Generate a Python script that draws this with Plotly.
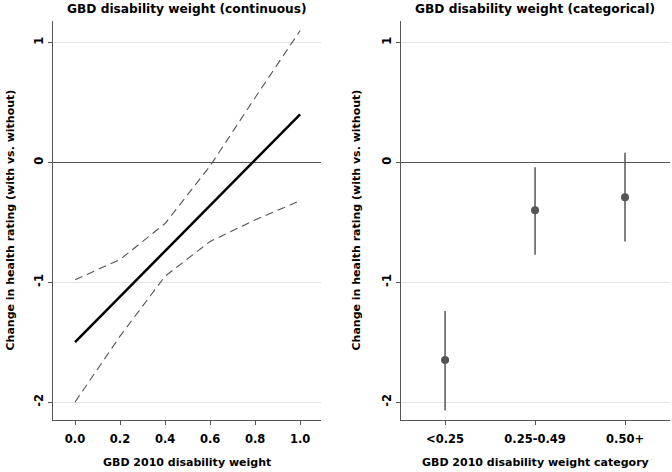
import plotly.graph_objects as go
from plotly.subplots import make_subplots

# left panel: continuous disability weight
weight = [0.0, 0.2, 0.4, 0.6, 0.8, 1.0]
effect = [-1.50, -1.12, -0.74, -0.36, 0.02, 0.40]
upper = [-0.98, -0.81, -0.51, -0.03, 0.54, 1.10]
lower = [-2.00, -1.45, -0.95, -0.66, -0.48, -0.32]

# right panel: categorical disability weight
categories = ["<0.25", "0.25-0.49", "0.50+"]
cat_effect = [-1.65, -0.40, -0.29]
cat_upper = [-1.24, -0.04, 0.08]
cat_lower = [-2.07, -0.77, -0.66]

FONT = "DejaVu Sans"
DARK = "#555555"
GRID = "#e4e4e4"

fig = make_subplots(rows=1, cols=2, horizontal_spacing=0.13)

fig.add_trace(go.Scatter(
    x=weight, y=upper, mode="lines",
    line=dict(color=DARK, width=1.1, dash="8px,5px"),
), row=1, col=1)
fig.add_trace(go.Scatter(
    x=weight, y=lower, mode="lines",
    line=dict(color=DARK, width=1.1, dash="8px,5px"),
), row=1, col=1)
fig.add_trace(go.Scatter(
    x=weight, y=effect, mode="lines",
    line=dict(color="black", width=2.5),
), row=1, col=1)

fig.add_trace(go.Scatter(
    x=categories, y=cat_effect, mode="markers",
    marker=dict(color=DARK, size=8),
    error_y=dict(
        type="data", symmetric=False,
        array=[u - e for u, e in zip(cat_upper, cat_effect)],
        arrayminus=[e - l for l, e in zip(cat_lower, cat_effect)],
        color=DARK, thickness=1.5, width=0,
    ),
), row=1, col=2)

tick_font = dict(family=FONT, size=11.5, color="black", weight="bold")

yaxis_style = dict(
    range=[-2.15, 1.18], tickvals=[-2, -1, 0, 1], ticktext=["-2", "-1", "0", "1"],
    tickangle=-90, ticks="outside", ticklen=4, tickcolor=DARK,
    showline=True, linecolor=DARK, linewidth=1.2,
    showgrid=True, gridcolor=GRID, gridwidth=1,
    zeroline=True, zerolinecolor=DARK, zerolinewidth=1.3,
    tickfont=tick_font, automargin=False,
)
xaxis_style = dict(
    ticks="outside", ticklen=4, tickcolor=DARK,
    showline=True, linecolor=DARK, linewidth=1.2,
    showgrid=False, zeroline=False, ticklabelstandoff=4,
    tickfont=tick_font, automargin=False,
)

fig.update_yaxes(**yaxis_style)
fig.update_xaxes(**xaxis_style)
fig.update_xaxes(range=[-0.098, 1.093], tickvals=weight, ticktext=["0.0", "0.2", "0.4", "0.6", "0.8", "1.0"],
                 domain=[0, 0.4344], row=1, col=1)
fig.update_xaxes(type="category", range=[-0.49, 2.5], domain=[0.564, 1], row=1, col=2)

annotations = []
# panel titles
for x, text in [(0.2172, "GBD disability weight (continuous)"), (0.782, "GBD disability weight (categorical)")]:
    annotations.append(dict(x=x, y=1.0, xref="paper", yref="paper", yshift=12,
                            xanchor="center", yanchor="middle",
                            text="<b>%s</b>" % text, showarrow=False,
                            font=dict(family=FONT, size=12.2, color="black")))
# x axis titles
for x, text in [(0.2172, "GBD 2010 disability weight"), (0.782, "GBD 2010 disability weight category")]:
    annotations.append(dict(x=x, y=0.0, xref="paper", yref="paper", yshift=-42,
                            xanchor="center", yanchor="middle",
                            text="<b>%s</b>" % text, showarrow=False,
                            font=dict(family=FONT, size=11, color="black")))
# y axis titles
for px_x in [10, 356]:
    annotations.append(dict(x=(px_x - 53) / 617, y=0.5, xref="paper", yref="paper",
                            xanchor="center", yanchor="middle",
                            text="<b>Change in health rating (with vs. without)</b>",
                            textangle=-90, showarrow=False,
                            font=dict(family=FONT, size=11, color="black")))

fig.update_layout(
    width=672, height=472,
    margin=dict(l=53, r=2, t=21, b=52),
    paper_bgcolor="white", plot_bgcolor="white",
    showlegend=False,
    annotations=annotations,
)

fig.write_html("out.html", config={"displayModeBar": False},
               post_script="document.body.style.margin='0';")
